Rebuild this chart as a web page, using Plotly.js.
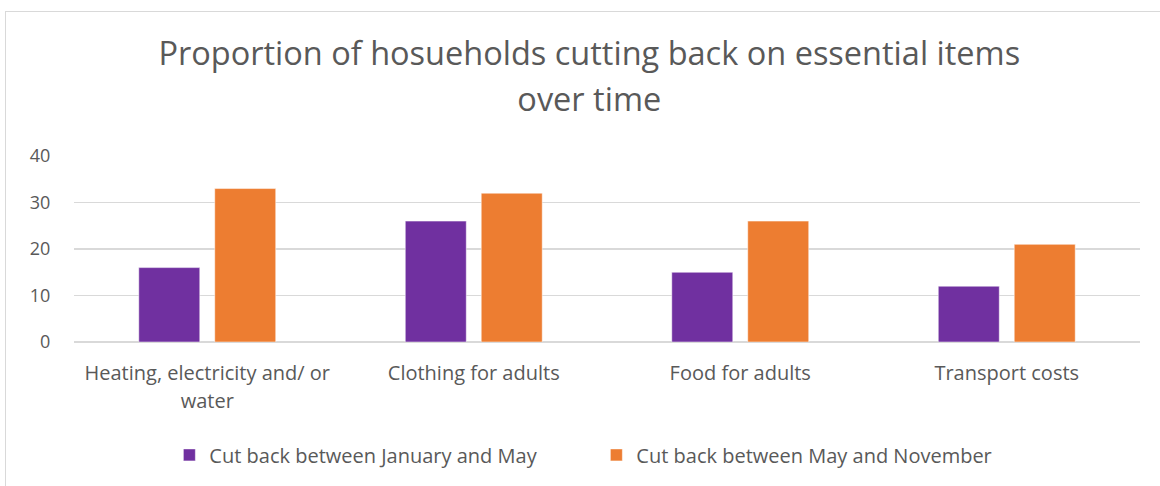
<!DOCTYPE html>
<html>
<head>
<meta charset="utf-8">
<script src="https://cdn.plot.ly/plotly-3.0.1.min.js"></script>
<style>
  html, body { margin: 0; padding: 0; background: #ffffff; overflow: hidden; }
  #wrap { position: relative; width: 1160px; height: 486px; }
  #chart { width: 1160px; height: 486px; }
  #frame { position: absolute; left: 5px; top: 11px; width: 1200px; height: 520px;
           border: 1px solid #d9d9d9; pointer-events: none; box-sizing: border-box; }
</style>
</head>
<body>
<div id="wrap">
  <div id="chart"></div>
  <div id="frame"></div>
</div>
<script>
const categories = [
  "Heating, electricity and/ or<br>water",
  "Clothing for adults",
  "Food for adults",
  "Transport costs"
];
const seriesNames = [
  "Cut back between January and May",
  "Cut back between May and November"
];
const janToMay = [16, 26, 15, 12];
const mayToNov = [33, 32, 26, 21];
const yTickVals = [0, 10, 20, 30, 40];
const titleText = "Proportion of hosueholds cutting back on essential items<br>over time";

const FONT = "'Open Sans', sans-serif";
const TXT = "#595959";

function sized(text, px) {
  return text.split("<br>").map(function (s) {
    return '<span style="font-size:' + px + 'px">' + s + '</span>';
  }).join("<br>");
}

const traces = [
  { type: "bar", name: seriesNames[0], x: categories, y: janToMay,
    marker: { color: "#7030A0", line: { color: "#ffffff", width: 0.5 } }, hoverinfo: "skip" },
  { type: "bar", name: seriesNames[1], x: categories, y: mayToNov,
    marker: { color: "#ED7D31", line: { color: "#ffffff", width: 0.5 } }, hoverinfo: "skip" }
];

const layout = {
  width: 1160, height: 486,
  paper_bgcolor: "#ffffff", plot_bgcolor: "#ffffff",
  font: { family: FONT, color: TXT, size: 18 },
  title: {
    text: sized(titleText, 32.5),
    font: { family: FONT, size: 35, color: TXT },
    x: 0.508, xanchor: "center", xref: "container",
    y: 0.866, yanchor: "top", yref: "container"
  },
  margin: { l: 74, r: 20, t: 156, b: 144, pad: 0 },
  barmode: "group",
  bargap: 0.43,
  bargroupgap: 0.197,
  xaxis: {
    type: "category",
    tickvals: categories,
    ticktext: categories.map(function (c) { return sized(c, 20); }),
    showgrid: false, zeroline: false, showline: false,
    ticks: "outside", ticklen: 12, tickcolor: "rgba(0,0,0,0)",
    tickfont: { family: FONT, size: 21, color: TXT },
    fixedrange: true
  },
  yaxis: {
    range: [0, 40],
    tickvals: yTickVals,
    showgrid: true, gridcolor: "#d9d9d9", gridwidth: 1.5,
    zeroline: true, zerolinecolor: "#d9d9d9", zerolinewidth: 1.5,
    showline: false,
    ticks: "outside", ticklen: 19, tickcolor: "rgba(0,0,0,0)",
    tickfont: { family: FONT, size: 18, color: TXT },
    fixedrange: true
  },
  showlegend: true,
  legend: {
    orientation: "h",
    xref: "container", yref: "container",
    x: 0.146, xanchor: "left",
    y: 0.064, yanchor: "middle",
    font: { family: FONT, size: 20, color: TXT },
    entrywidth: 382,
    traceorder: "normal",
    bgcolor: "rgba(0,0,0,0)"
  }
};

Plotly.newPlot("chart", traces, layout, { displayModeBar: false, staticPlot: true });
</script>
</body>
</html>
